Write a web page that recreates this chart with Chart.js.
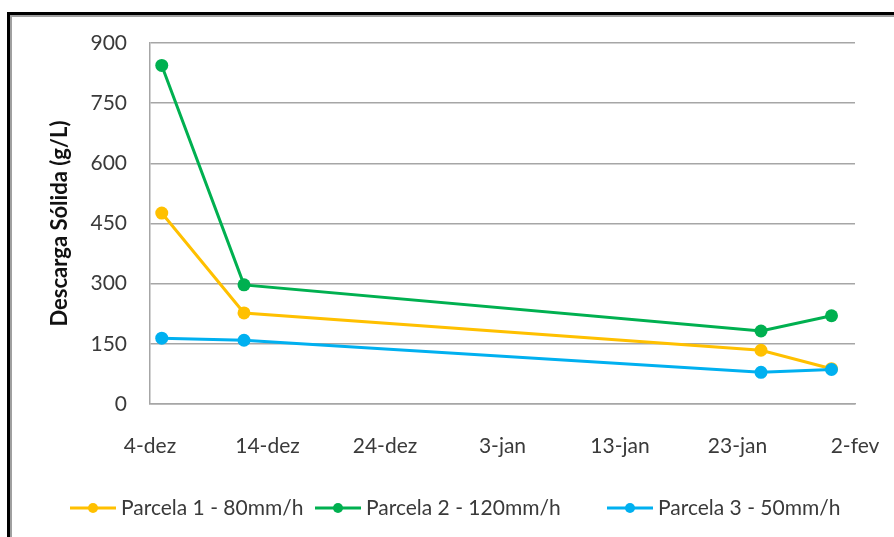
<!DOCTYPE html>
<html>
<head>
<meta charset="utf-8">
<script src="https://cdn.jsdelivr.net/npm/chart.js@4"></script>
<style>
  html, body { margin: 0; padding: 0; background: #fff; overflow: hidden; }
  #wrap { position: relative; width: 894px; height: 537px; }
  #frame {
    position: absolute; left: 7px; top: 12px; width: 940px; height: 600px;
    border: 3px solid #000; box-shadow: inset 0 0 0 2px #a0a0a0; pointer-events: none;
  }
  canvas { position: absolute; left: 0; top: 0; }
</style>
</head>
<body>
<div id="wrap">
  <canvas id="c" width="894" height="537"></canvas>
  <div id="frame"></div>
</div>
<script>
// Sampling days, counted from 4 December
const sampleDays = [1, 8, 52, 58];
const tickLabels = ['4-dez', '14-dez', '24-dez', '3-jan', '13-jan', '23-jan', '2-fev'];

const seriesNames = ['Parcela 1 - 80mm/h', 'Parcela 2 - 120mm/h', 'Parcela 3 - 50mm/h'];
const parcela1 = [476, 227, 134, 88];
const parcela2 = [844, 297, 182, 220];
const parcela3 = [164, 159, 79, 86];
const seriesColors = ['#FFC000', '#00B050', '#00B0F0'];

const FONT = 'Lato, "Liberation Sans", sans-serif';
const TEXT = '#3a3a3a';

function toPoints(values) {
  return values.map((v, i) => ({ x: sampleDays[i], y: v }));
}

// Legend drawn below the plot: short line with a dot, then the series name
const lineLegend = {
  id: 'lineLegend',
  afterDraw(chart) {
    const ctx = chart.ctx;
    const slots = [70, 315, 607];
    const y = 508;
    ctx.save();
    ctx.font = '21px ' + FONT;
    ctx.textBaseline = 'middle';
    chart.data.datasets.forEach((ds, i) => {
      const x0 = slots[i];
      ctx.strokeStyle = ds.borderColor;
      ctx.lineWidth = 3;
      ctx.beginPath();
      ctx.moveTo(x0, y);
      ctx.lineTo(x0 + 46, y);
      ctx.stroke();
      ctx.fillStyle = ds.borderColor;
      ctx.beginPath();
      ctx.arc(x0 + 23, y, 5, 0, Math.PI * 2);
      ctx.fill();
      ctx.fillStyle = TEXT;
      ctx.fillText(ds.label, x0 + 51, y);
    });
    ctx.restore();
  }
};

const datasets = [parcela1, parcela2, parcela3].map((vals, i) => ({
  label: seriesNames[i],
  data: toPoints(vals),
  borderColor: seriesColors[i],
  backgroundColor: seriesColors[i],
  borderWidth: 3,
  pointRadius: 6.5,
  pointHoverRadius: 6.5,
  pointBorderWidth: 0,
  tension: 0
}));
// green underneath, blue on top
datasets[0].order = 2;
datasets[1].order = 3;
datasets[2].order = 1;

new Chart(document.getElementById('c'), {
  type: 'line',
  data: { datasets },
  plugins: [lineLegend],
  options: {
    responsive: false,
    devicePixelRatio: 1,
    animation: false,
    layout: { padding: { left: 0, top: 43, right: 39, bottom: 73 } },
    plugins: { legend: { display: false }, tooltip: { enabled: false } },
    scales: {
      x: {
        type: 'linear',
        min: 0,
        max: 60,
        ticks: {
          stepSize: 10,
          padding: 30,
          maxRotation: 0,
          color: TEXT,
          font: { family: FONT, size: 21 },
          callback: (v, i) => tickLabels[i]
        },
        grid: { display: false, drawTicks: false },
        border: { display: true, color: '#a6a6a6', width: 1.5 },
        afterFit: s => { s.height = 60; s.paddingLeft = 0; s.paddingRight = 0; }
      },
      y: {
        min: 0,
        max: 900,
        ticks: {
          stepSize: 150,
          padding: 23,
          color: TEXT,
          font: { family: FONT, size: 21 }
        },
        grid: { color: '#a6a6a6', lineWidth: 1.5, drawTicks: false },
        border: { display: true, color: '#a6a6a6', width: 1.5 },
        title: {
          display: true,
          text: 'Descarga Sólida (g/L)',
          color: '#111',
          font: { family: FONT, size: 22, weight: 'bold' },
          padding: { top: 47, bottom: 0 }
        },
        afterFit: s => { s.width = 150; s.paddingTop = 0; s.paddingBottom = 0; }
      }
    }
  }
});
</script>
</body>
</html>
